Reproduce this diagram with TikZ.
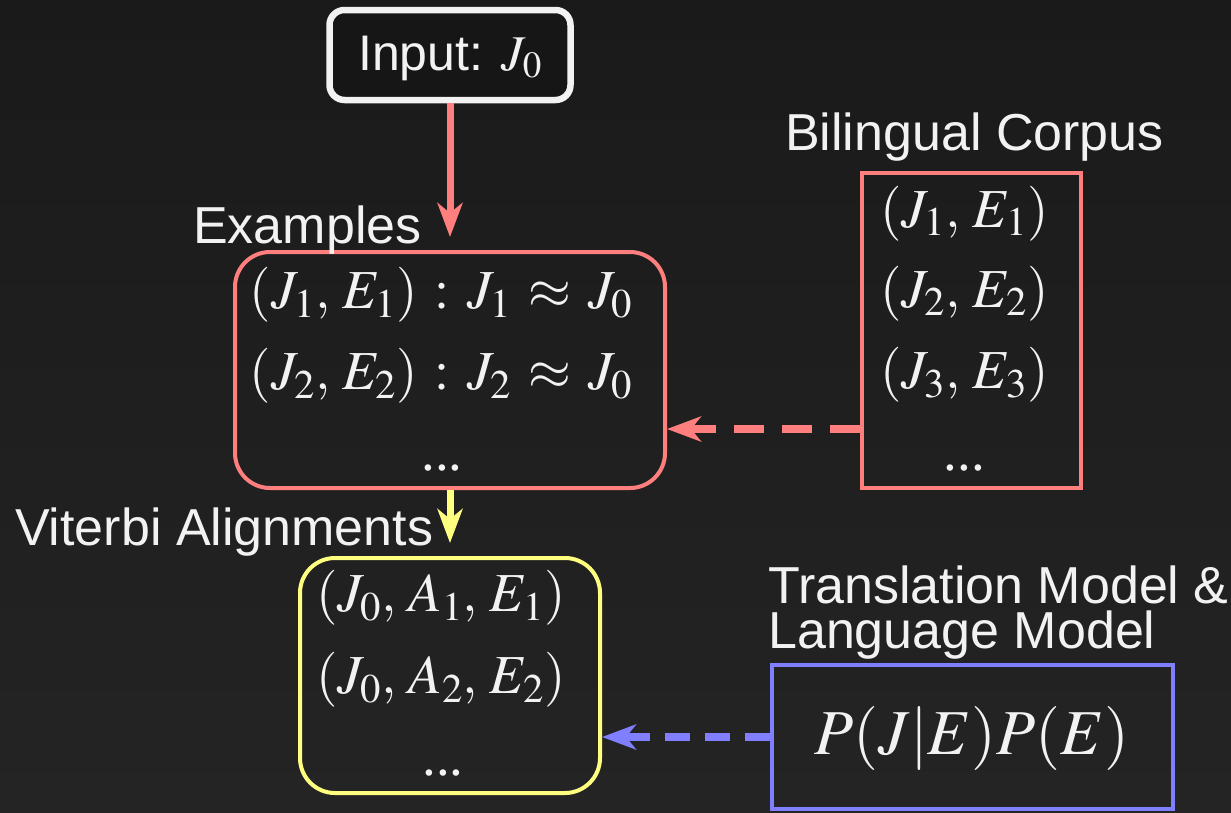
\documentclass[tikz,border=0pt]{standalone}
\usepackage{mathptmx}
\usepackage[no-math]{fontspec}
\setmainfont{Liberation Sans}
\newfontfamily\serifdots{Liberation Serif}
\usetikzlibrary{arrows.meta}
\definecolor{bgtop}{HTML}{1A1A1A}
\definecolor{bgbot}{HTML}{242424}
\definecolor{fg}{HTML}{F2F2F2}
\definecolor{myred}{HTML}{FF7F7F}
\definecolor{myyellow}{HTML}{FFFF7F}
\definecolor{myblue}{HTML}{7F7FFF}
\definecolor{infill}{HTML}{161616}
\thinmuskip=3.8mu
\thickmuskip=5.6mu plus 2mu
\begin{document}
\begin{tikzpicture}[x=1pt,y=-1pt,
  lbl/.style={font=\fontsize{52}{52}\selectfont, text=fg, inner sep=0pt, anchor=base west},
  mth/.style={font=\fontsize{55}{55}\selectfont, text=fg, inner sep=0pt},
  dots/.style={font=\fontsize{55}{55}\selectfont\serifdots, text=fg, inner sep=0pt, anchor=base},
  roundbox/.style={line width=4pt, rounded corners=35pt, inner sep=0pt},
  sharpbox/.style={line width=4pt, inner sep=0pt},
  tip/.style={-{Stealth[length=34pt,width=25pt,inset=10pt]}},
  solidarrow/.style={tip, line width=7pt},
  dasharrow/.style={tip, line width=8pt}
]
\useasboundingbox (0,0) rectangle (1231,812);
\shade[top color=bgtop, bottom color=bgbot] (0,0) rectangle (1231,812);

% input
\node[draw=fg, fill=infill, line width=6.5pt, rounded corners=15pt,
      minimum width=241pt, minimum height=90pt, inner sep=0pt] (input) at (450,55) {};
\node[font=\fontsize{50}{50}\selectfont, text=fg, inner sep=0pt, anchor=base] (inputtxt) at (450,70) {Input: $J_0$};

% examples
\node[draw=myred, roundbox, minimum width=430pt, minimum height=236pt] (examples) at (450,370) {};
\node[lbl] (exlbl) at (193,243) {Examples};
\node[mth] (ex1) at (441,295) {$(J_1,E_1):J_1\approx J_0$};
\node[mth] (ex2) at (441,376) {$(J_2,E_2):J_2\approx J_0$};
\node[dots] (ex3) at (442,470) {...};

% corpus
\node[draw=myred, sharpbox, minimum width=219pt, minimum height=315pt] (corpus) at (971.5,330.5) {};
\node[lbl] (corplbl) at (785,150) {Bilingual Corpus};
\node[mth] (c1) at (964.5,213.5) {$(J_1,E_1)$};
\node[mth] (c2) at (964.5,293.5) {$(J_2,E_2)$};
\node[mth] (c3) at (964.5,375) {$(J_3,E_3)$};
\node[dots] (c4) at (964.5,470) {...};

% viterbi
\node[draw=myyellow, roundbox, minimum width=300pt, minimum height=235pt] (viterbi) at (450,675.5) {};
\node[lbl] (vitlbl) at (15,545) {Viterbi Alignments};
\node[mth] (v1) at (441,598) {$(J_0,A_1,E_1)$};
\node[mth] (v2) at (441,680) {$(J_0,A_2,E_2)$};
\node[dots] (v3) at (443,775) {...};

% models
\node[draw=myblue, sharpbox, minimum width=401pt, minimum height=144pt] (lm) at (972.5,737) {};
\node[lbl, text depth=0pt] (tmlbl) at (768,603) {Translation Model \&};
\node[lbl] (lmlbl) at (768,648) {Language Model};
\node[font=\fontsize{64}{64}\selectfont, text=fg, inner sep=0pt] (lmtxt) at (972,738) {$P(J|E)P(E)$};

% connectors
\draw[solidarrow, myred, shorten >=13pt] (input.south) -- (examples.north);
\draw[solidarrow, myyellow, shorten >=13pt] (examples.south) -- (viterbi.north);
\coordinate (cw) at ([yshift=-98.5pt]corpus.west);
\draw[dasharrow, myred, dash pattern=on 30pt off 18pt] (cw) -- (examples.east |- cw);
\draw[dasharrow, myblue, dash pattern=on 25pt off 15pt] (lm.west) -- (viterbi.east |- lm.west);
\end{tikzpicture}
\end{document}
